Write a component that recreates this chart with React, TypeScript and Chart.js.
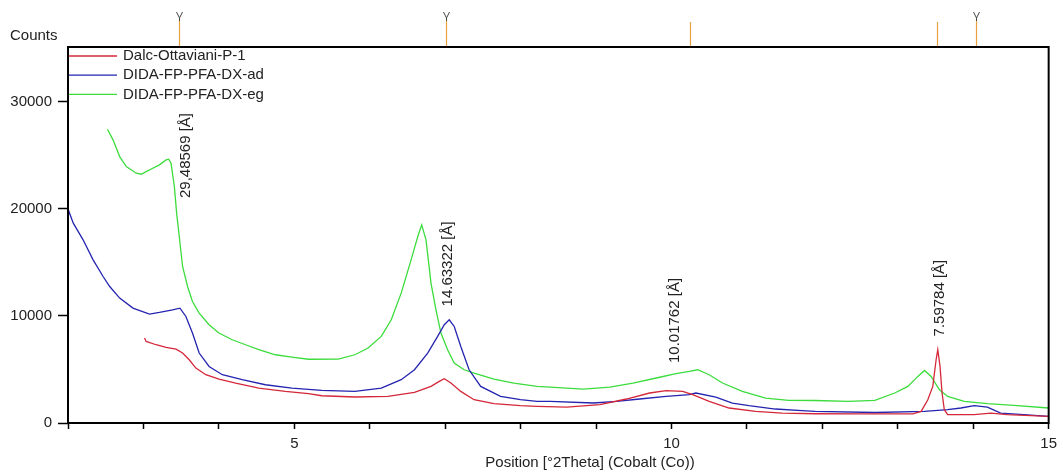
import React, { useEffect, useRef } from 'react';
import { Chart, registerables } from 'chart.js';

Chart.register(...registerables);

const seriesNames = ['Dalc-Ottaviani-P-1', 'DIDA-FP-PFA-DX-ad', 'DIDA-FP-PFA-DX-eg'];
const seriesColors = ['#d4283a', '#2424b0', '#3cdc3c'];

// Dalc-Ottaviani-P-1 (red)
const dalcX = [3.014, 3.036, 3.168, 3.3, 3.432, 3.519, 3.607, 3.695, 3.827, 4.002, 4.222, 4.529, 4.88, 5.188, 5.363, 5.803, 6.241, 6.593, 6.812, 6.922, 6.988, 7.076, 7.207, 7.383, 7.647, 7.998, 8.217, 8.612, 9.051, 9.403, 9.71, 9.93, 10.149, 10.281, 10.5, 10.763, 11.115, 11.466, 11.905, 12.5, 13.2, 13.31, 13.398, 13.464, 13.508, 13.53, 13.56, 13.587, 13.617, 13.661, 14.013, 14.232, 14.45, 15.0];
const dalcY = [7930, 7610, 7305, 7050, 6900, 6530, 5905, 5130, 4505, 4105, 3730, 3265, 2950, 2735, 2545, 2425, 2480, 2855, 3415, 3880, 4130, 3730, 2950, 2175, 1800, 1615, 1550, 1490, 1710, 2240, 2800, 3015, 2950, 2640, 2015, 1400, 1080, 930, 865, 850, 860, 1080, 2175, 3415, 5905, 6840, 5280, 2800, 1240, 775, 775, 930, 775, 620];

// DIDA-FP-PFA-DX-ad (blue)
const adX = [2.004, 2.07, 2.2, 2.333, 2.465, 2.553, 2.685, 2.861, 3.08, 3.212, 3.387, 3.484, 3.563, 3.65, 3.739, 3.87, 4.046, 4.309, 4.617, 4.968, 5.363, 5.803, 6.153, 6.417, 6.593, 6.768, 6.9, 6.988, 7.054, 7.12, 7.207, 7.317, 7.471, 7.734, 7.998, 8.217, 8.392, 8.964, 9.271, 9.578, 9.93, 10.236, 10.324, 10.588, 10.807, 11.027, 11.378, 11.73, 11.905, 12.696, 13.354, 13.661, 13.837, 14.013, 14.188, 14.364, 14.671, 15.0];
const adY = [19900, 18655, 17100, 15230, 13675, 12740, 11660, 10725, 10165, 10320, 10570, 10725, 9945, 8395, 6530, 5280, 4505, 4040, 3570, 3265, 3040, 2950, 3265, 4040, 4970, 6530, 8080, 9170, 9635, 9010, 7145, 4970, 3415, 2480, 2175, 2015, 2015, 1865, 2015, 2240, 2480, 2640, 2800, 2425, 1865, 1615, 1305, 1150, 1080, 980, 1080, 1240, 1400, 1615, 1490, 930, 775, 620];

// DIDA-FP-PFA-DX-eg (green)
const egX = [2.523, 2.597, 2.685, 2.773, 2.905, 2.971, 3.036, 3.124, 3.212, 3.3, 3.335, 3.366, 3.41, 3.44, 3.475, 3.519, 3.585, 3.65, 3.739, 3.87, 4.0, 4.177, 4.354, 4.529, 4.749, 4.968, 5.188, 5.583, 5.803, 5.978, 6.153, 6.285, 6.417, 6.548, 6.637, 6.689, 6.746, 6.812, 6.878, 6.944, 7.032, 7.12, 7.251, 7.383, 7.647, 7.91, 8.217, 8.392, 8.832, 9.183, 9.49, 9.798, 10.06, 10.236, 10.347, 10.5, 10.676, 10.94, 11.247, 11.554, 11.905, 12.344, 12.696, 12.959, 13.134, 13.266, 13.354, 13.442, 13.552, 13.661, 13.881, 14.188, 14.54, 15.0];
const egY = [27425, 26430, 24870, 23935, 23320, 23225, 23470, 23785, 24095, 24560, 24625, 24250, 22070, 19590, 17410, 14610, 12740, 11345, 10260, 9170, 8395, 7770, 7305, 6840, 6370, 6155, 5950, 5970, 6370, 6995, 8080, 9635, 12125, 15230, 17410, 18500, 17100, 13060, 10570, 8395, 6840, 5600, 4970, 4665, 4105, 3730, 3415, 3355, 3170, 3355, 3730, 4200, 4600, 4815, 4970, 4505, 3730, 2950, 2330, 2110, 2100, 2015, 2110, 2800, 3415, 4350, 4910, 4350, 3105, 2480, 2015, 1800, 1640, 1400];

const xMin = 2;
const xMax = 15;
const yMin = 0;
const yMax = 35100;
const xTickValues = [2, 3, 4, 5, 6, 7, 8, 9, 10, 11, 12, 13, 14, 15];
const xLabeledTicks = [5, 10, 15];
const yTickValues = [0, 10000, 20000, 30000];

const yAxisTitle = 'Counts';
const xAxisTitle = 'Position [°2Theta] (Cobalt (Co))';

// reference pattern markers (°2Theta) above the plot
const markerPos = [3.477, 7.009, 10.246, 13.522, 14.04];
const markerHasV = [true, true, false, false, true];

// peak annotations: d-spacing text, 2Theta position, base in counts
const peakLabelText = ['29,48569 [Å]', '14.63322 [Å]', '10.01762 [Å]', '7.59784 [Å]'];
const peakLabelPos = [3.567, 7.032, 10.039, 13.552];
const peakLabelBase = [21000, 10880, 5600, 8080];

const FONT = '15px "Liberation Sans", Arial, sans-serif';
const TEXT_COLOR = '#222';

const zip = (xs: number[], ys: number[]) => xs.map((x, i) => ({ x, y: ys[i] }));

const overlayPlugin = {
  id: 'overlay',
  afterDatasetsDraw(chart: any) {
    const { ctx, chartArea: a, scales } = chart;
    const xs = scales.x;
    const ys = scales.y;
    ctx.save();

    // frame
    ctx.strokeStyle = '#000';
    ctx.lineWidth = 2;
    ctx.strokeRect(a.left, a.top, a.right - a.left, a.bottom - a.top);

    // legend inside plot
    ctx.font = FONT;
    ctx.textBaseline = 'middle';
    ctx.textAlign = 'left';
    chart.data.datasets.forEach((ds: any, i: number) => {
      const yy = a.top + 9 + i * 19.2;
      ctx.strokeStyle = ds.borderColor;
      ctx.lineWidth = 1.3;
      ctx.beginPath();
      ctx.moveTo(a.left + 1, yy);
      ctx.lineTo(a.left + 49, yy);
      ctx.stroke();
      ctx.fillStyle = TEXT_COLOR;
      ctx.fillText(ds.label, a.left + 55, yy);
    });

    // axis titles
    ctx.fillStyle = TEXT_COLOR;
    ctx.textAlign = 'left';
    ctx.fillText(yAxisTitle, 10, 36);
    ctx.textAlign = 'center';
    ctx.fillText(xAxisTitle, 590, 463);

    // markers above plot
    markerPos.forEach((p, i) => {
      const px = Math.round(xs.getPixelForValue(p)) + 0.5;
      ctx.strokeStyle = '#eba040';
      ctx.lineWidth = 1.2;
      ctx.beginPath();
      ctx.moveTo(px, markerHasV[i] ? 20 : 22);
      ctx.lineTo(px, a.top - 1);
      ctx.stroke();
      if (markerHasV[i]) {
        ctx.strokeStyle = '#444';
        ctx.lineWidth = 1;
        ctx.beginPath();
        ctx.moveTo(px - 3, 12);
        ctx.lineTo(px, 18);
        ctx.lineTo(px + 3, 12);
        ctx.moveTo(px, 18);
        ctx.lineTo(px, 21);
        ctx.stroke();
      }
    });

    // peak labels (rotated)
    ctx.fillStyle = TEXT_COLOR;
    ctx.textAlign = 'left';
    ctx.textBaseline = 'middle';
    peakLabelText.forEach((t, i) => {
      const px = xs.getPixelForValue(peakLabelPos[i]);
      const py = ys.getPixelForValue(peakLabelBase[i]);
      ctx.save();
      ctx.translate(px, py);
      ctx.rotate(-Math.PI / 2);
      ctx.fillText(t, 0, 0);
      ctx.restore();
    });

    ctx.restore();
  },
};

export default function App() {
  const canvasRef = useRef<HTMLCanvasElement | null>(null);

  useEffect(() => {
    if (!canvasRef.current) return;
    const seriesX = [dalcX, adX, egX];
    const seriesY = [dalcY, adY, egY];
    const chart = new Chart(canvasRef.current, {
      type: 'line',
      data: {
        datasets: seriesNames.map((name, i) => ({
          label: name,
          data: zip(seriesX[i], seriesY[i]),
          borderColor: seriesColors[i],
          backgroundColor: seriesColors[i],
          borderWidth: 1.3,
          pointRadius: 0,
          tension: 0,
          fill: false,
        })),
      },
      options: {
        animation: false,
        responsive: false,
        layout: { padding: { left: 0, top: 47, right: 8, bottom: 0 } },
        plugins: {
          legend: { display: false },
          tooltip: { enabled: false },
          title: { display: false },
        },
        scales: {
          x: {
            type: 'linear',
            min: xMin,
            max: xMax,
            afterBuildTicks: (s: any) => { s.ticks = xTickValues.map((v) => ({ value: v })); },
            afterFit: (s: any) => { s.height = 50; },
            border: { display: false },
            grid: {
              drawOnChartArea: false,
              drawTicks: true,
              tickLength: 6,
              tickColor: '#000',
              tickWidth: 1.5,
            },
            ticks: {
              autoSkip: false,
              maxRotation: 0,
              padding: 6,
              color: TEXT_COLOR,
              font: { family: '"Liberation Sans", Arial, sans-serif', size: 15 },
              callback: (v: any) => (xLabeledTicks.includes(Number(v)) ? String(v) : ''),
            },
          },
          y: {
            type: 'linear',
            min: yMin,
            max: yMax,
            afterBuildTicks: (s: any) => { s.ticks = yTickValues.map((v) => ({ value: v })); },
            afterFit: (s: any) => { s.width = 68; },
            border: { display: false },
            grid: {
              drawOnChartArea: false,
              drawTicks: true,
              tickLength: 10,
              tickColor: '#000',
              tickWidth: 1.5,
            },
            ticks: {
              autoSkip: false,
              padding: 6,
              color: TEXT_COLOR,
              font: { family: '"Liberation Sans", Arial, sans-serif', size: 15 },
              callback: (v: any) => String(v),
            },
          },
        },
      },
      plugins: [overlayPlugin],
    } as any);
    return () => chart.destroy();
  }, []);

  return (
    <div style={{ position: 'fixed', left: 0, top: 0, width: 1063, height: 473, background: '#fff' }}>
      <canvas ref={canvasRef} width={1063} height={473} style={{ display: 'block', width: 1063, height: 473 }} />
    </div>
  );
}
